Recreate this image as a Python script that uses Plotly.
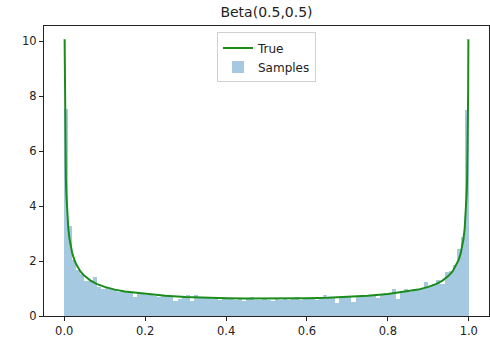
import plotly.graph_objects as go

# Histogram (density) of samples: 100 bins on [0, 1]
bin_left = [i / 100 for i in range(100)]
sample_density = [
    7.52, 3.27, 2.05, 1.68, 1.52, 1.28, 1.30, 1.42, 1.07, 1.00,
    1.03, 0.99, 0.95, 0.86, 0.90, 0.89, 0.84, 0.68, 0.82, 0.79,
    0.78, 0.77, 0.74, 0.68, 0.73, 0.72, 0.70, 0.55, 0.62, 0.69,
    0.75, 0.55, 0.78, 0.66, 0.70, 0.69, 0.62, 0.65, 0.60, 0.68,
    0.64, 0.66, 0.59, 0.63, 0.55, 0.62, 0.69, 0.58, 0.58, 0.63,
    0.60, 0.56, 0.62, 0.58, 0.66, 0.60, 0.63, 0.70, 0.58, 0.62,
    0.64, 0.66, 0.60, 0.67, 0.78, 0.66, 0.68, 0.48, 0.70, 0.69,
    0.70, 0.50, 0.72, 0.74, 0.72, 0.76, 0.78, 0.64, 0.80, 0.82,
    0.84, 0.97, 0.61, 0.87, 0.97, 0.86, 0.95, 1.00, 1.02, 1.22,
    1.10, 1.15, 1.31, 1.18, 1.60, 1.62, 1.85, 2.42, 2.86, 7.49,
]
bin_width = 0.01
bin_center = [b + bin_width / 2 for b in bin_left]

# True density curve
true_x_left = [0.001, 0.0015, 0.002, 0.003, 0.004, 0.005, 0.007, 0.01, 0.013,
               0.016, 0.02, 0.025, 0.03, 0.04, 0.05, 0.065, 0.08, 0.1, 0.125,
               0.15, 0.2, 0.25, 0.3, 0.35, 0.4, 0.45]
true_y_left = [10.07, 8.22, 7.12, 5.82, 5.04, 4.51, 3.82, 3.20, 2.81,
               2.54, 2.27, 2.04, 1.87, 1.62, 1.46, 1.29, 1.17, 1.06, 0.96,
               0.89, 0.80, 0.735, 0.695, 0.667, 0.650, 0.640]
true_x = true_x_left + [0.5] + [round(1 - v, 4) for v in reversed(true_x_left)]
true_y = true_y_left + [0.637] + list(reversed(true_y_left))

x_ticks = [0.0, 0.2, 0.4, 0.6, 0.8, 1.0]
x_tick_labels = ["0.0", "0.2", "0.4", "0.6", "0.8", "1.0"]
y_ticks = [0, 2, 4, 6, 8, 10]

fig = go.Figure()
fig.add_trace(go.Bar(
    x=bin_center, y=sample_density, width=bin_width,
    marker=dict(color="rgba(31,119,180,0.4)", line=dict(width=0)),
    name="Samples",
))
fig.add_trace(go.Scatter(
    x=true_x, y=true_y, mode="lines",
    line=dict(color="#1a8c1a", width=2),
    name="True",
))

font_family = "DejaVu Sans"
fig.update_layout(
    width=490, height=343,
    margin=dict(l=44, r=1, t=26, b=27),
    paper_bgcolor="white", plot_bgcolor="white",
    bargap=0,
    showlegend=True,
    title=dict(text="Beta(0.5,0.5)", x=(44 + 489) / 2 / 490, xanchor="center",
               y=1 - 12 / 343, yanchor="middle",
               font=dict(family=font_family, size=14, color="#222")),
    legend=dict(x=0.5, xanchor="center", y=0.978, yanchor="top",
                traceorder="reversed",
                bgcolor="white", bordercolor="#d0d0d0", borderwidth=1,
                font=dict(family=font_family, size=12, color="#222")),
    xaxis=dict(range=[-0.05, 1.05], tickvals=x_ticks, ticktext=x_tick_labels,
               showgrid=False, zeroline=False, showline=True, mirror=True,
               linecolor="#222", linewidth=1, ticks="outside", ticklen=4,
               tickcolor="#222",
               tickfont=dict(family=font_family, size=11.5, color="#222")),
    yaxis=dict(range=[0, 10.55], tickvals=y_ticks,
               showgrid=False, zeroline=False, showline=True, mirror=True,
               linecolor="#222", linewidth=1, ticks="outside", ticklen=4,
               tickcolor="#222",
               tickfont=dict(family=font_family, size=11.5, color="#222")),
)

fig.write_html(
    "out.html",
    config={"displayModeBar": False},
    post_script="document.body.style.margin='0';document.body.style.overflow='hidden';",
)
